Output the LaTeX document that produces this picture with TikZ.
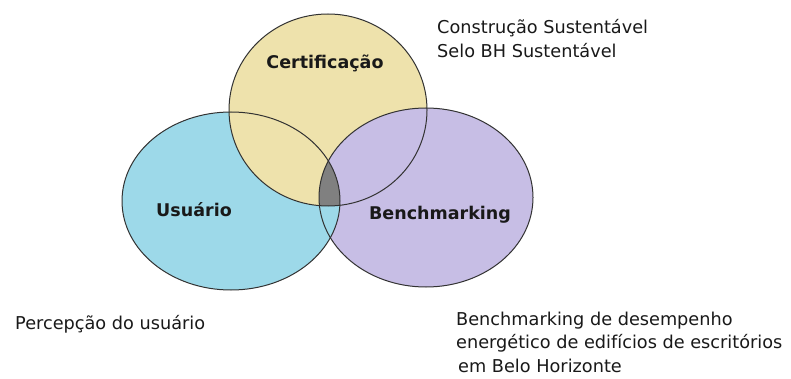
\documentclass[tikz,border=0pt]{standalone}
\usepackage{fontspec}
\setmainfont{DejaVu Sans}
\definecolor{usrblue}{RGB}{157,217,233}
\definecolor{certyellow}{RGB}{238,226,172}
\definecolor{benchviolet}{RGB}{199,190,229}
\definecolor{coregray}{RGB}{128,128,128}
\definecolor{rimgray}{RGB}{50,50,50}
\definecolor{inkgray}{RGB}{25,25,25}
\begin{document}
\begin{tikzpicture}[x=1pt,y=-1pt,
  rim/.style={draw=rimgray,line width=1pt},
  setlabel/.style={font=\fontsize{17.5}{20}\selectfont\bfseries,text=inkgray,inner sep=0pt},
  note/.style={font=\fontsize{17.7}{20}\selectfont,text=inkgray,inner sep=0pt,anchor=base west}]
\useasboundingbox (0,0) rectangle (791,379);
\fill[white] (0,0) rectangle (791,379);
% the three sets
\def\usrset{(231,201) ellipse [x radius=109, y radius=89]}
\def\certset{(328,110) ellipse [x radius=99, y radius=96]}
\def\benchset{(426,197.5) ellipse [x radius=107, y radius=89.5]}
% fills: user over benchmarking, certification over user, benchmarking over certification
\fill[benchviolet] \benchset;
\fill[usrblue] \usrset;
\fill[certyellow] \certset;
\begin{scope}
  \clip \certset;
  \fill[benchviolet] \benchset;
  \clip \benchset;
  \fill[coregray] \usrset;
\end{scope}
% outlines
\draw[rim] \usrset;
\draw[rim] \certset;
\draw[rim] \benchset;
% set names
\node[setlabel] (cert) at (325,63) {Certificação};
\node[setlabel] (usr) at (194,210) {Usuário};
\node[setlabel] (bench) at (440,215) {Benchmarking};
% notes
\node[note] (certnote1) at (437,34) {Construção Sustentável};
\node[note] (certnote2) at (437,58) {Selo BH Sustentável};
\node[note] (usrnote) at (15,329) {Percepção do usuário};
\node[note] (benchnote1) at (456,325) {Benchmarking de desempenho};
\node[note] (benchnote2) at (456,348) {energético de edifícios de escritórios};
\node[note] (benchnote3) at (458,372) {em Belo Horizonte};
\end{tikzpicture}
\end{document}
